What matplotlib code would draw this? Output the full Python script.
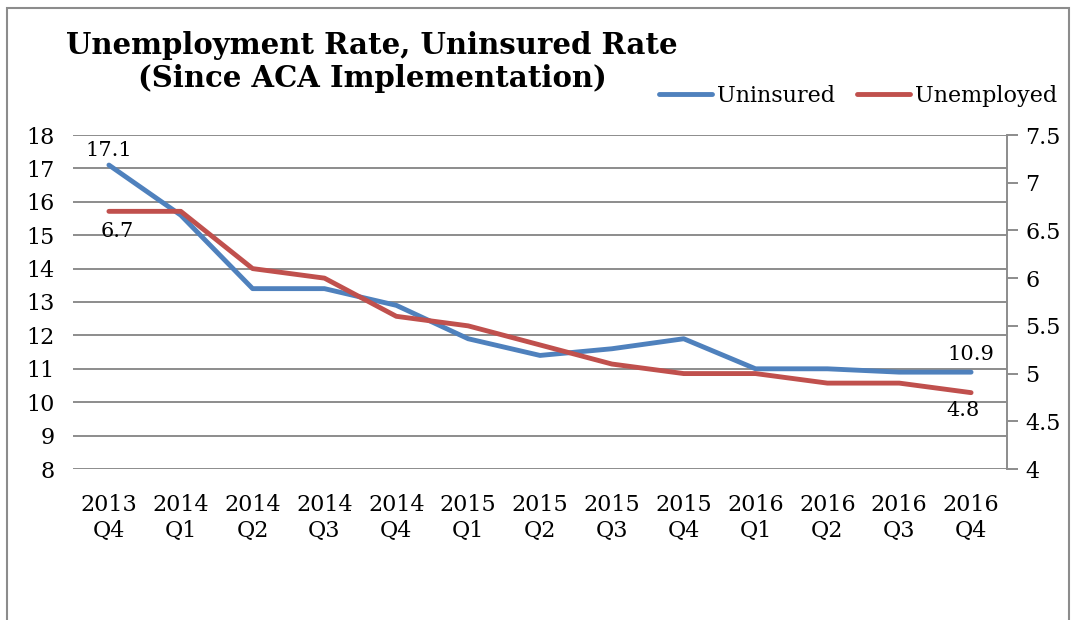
import matplotlib.pyplot as plt
from matplotlib.patches import Rectangle

quarters = ['2013\nQ4', '2014\nQ1', '2014\nQ2', '2014\nQ3', '2014\nQ4', '2015\nQ1', '2015\nQ2',
            '2015\nQ3', '2015\nQ4', '2016\nQ1', '2016\nQ2', '2016\nQ3', '2016\nQ4']
uninsured = [17.1, 15.6, 13.4, 13.4, 12.9, 11.9, 11.4, 11.6, 11.9, 11.0, 11.0, 10.9, 10.9]
unemployed = [6.7, 6.7, 6.1, 6.0, 5.6, 5.5, 5.3, 5.1, 5.0, 5.0, 4.9, 4.9, 4.8]
left_ticks = list(range(8, 19))
right_ticks = [4, 4.5, 5, 5.5, 6, 6.5, 7, 7.5]

BLUE = '#4F81BD'
RED = '#C0504D'
GRID = '#8C8C8C'
plt.rcParams['font.family'] = 'DejaVu Serif'

fig = plt.figure(figsize=(10.74, 6.2), dpi=100)
# outer chart frame
fig.patches.append(Rectangle((7 / 1074, -0.05), 1062 / 1074, 1.05 - 8 / 620, transform=fig.transFigure,
                             fill=False, edgecolor='#8C8C8C', linewidth=1.5))

ax = fig.add_axes([73 / 1074, 1 - 469 / 620, (1007 - 73) / 1074, (469 - 135) / 620])
x = list(range(len(quarters)))

ax.set_ylim(8, 18)
ax.set_xlim(-0.5, 12.5)
ax.set_yticks(left_ticks)
ax.yaxis.grid(True, color=GRID, linewidth=1.4)
ax.set_axisbelow(True)
for s in ['left', 'top', 'right', 'bottom']:
    ax.spines[s].set_visible(False)
ax.tick_params(axis='y', length=0, pad=13, labelsize=16)
ax.set_xticks(x)
ax.set_xticklabels(quarters, fontsize=16, linespacing=1.25)
ax.tick_params(axis='x', length=0, pad=18)

ax2 = ax.twinx()
ax2.set_ylim(4, 7.5)
ax2.set_yticks(right_ticks)
ax2.set_yticklabels([str(t) if t % 1 else str(int(t)) for t in right_ticks])
for s in ['left', 'top', 'bottom']:
    ax2.spines[s].set_visible(False)
ax2.spines['right'].set_color(GRID)
ax2.spines['right'].set_linewidth(1.4)
ax2.tick_params(axis='y', length=8, width=1.4, color=GRID, pad=5, labelsize=16)

l1, = ax.plot(x, uninsured, color=BLUE, linewidth=3.5, solid_capstyle='round', label='Uninsured', zorder=3)
l2, = ax2.plot(x, unemployed, color=RED, linewidth=3.5, solid_capstyle='round', label='Unemployed', zorder=3)

ax.annotate(f'{uninsured[0]}', (x[0], uninsured[0]), xytext=(0, 4), textcoords='offset points',
            ha='center', va='bottom', fontsize=15)
ax.annotate(f'{uninsured[-1]}', (x[-1], uninsured[-1]), xytext=(0, 6), textcoords='offset points',
            ha='center', va='bottom', fontsize=15)
ax2.annotate(f'{unemployed[0]}', (x[0], unemployed[0]), xytext=(6, -8), textcoords='offset points',
             ha='center', va='top', fontsize=15)
ax2.annotate(f'{unemployed[-1]}', (x[-1], unemployed[-1]), xytext=(-6, -6), textcoords='offset points',
             ha='center', va='top', fontsize=15)

fig.text(372 / 1074, 1 - 62 / 620, 'Unemployment Rate, Uninsured Rate\n(Since ACA Implementation)',
         ha='center', va='center', fontsize=21, fontweight='heavy', linespacing=1.15)

fig.legend(handles=[l1, l2], loc='center', bbox_to_anchor=(858 / 1074, 1 - 96 / 620), ncol=2,
           frameon=False, fontsize=16, handlelength=2.4, handletextpad=0.2, columnspacing=1.0)

fig.savefig('out.png', dpi=100)
